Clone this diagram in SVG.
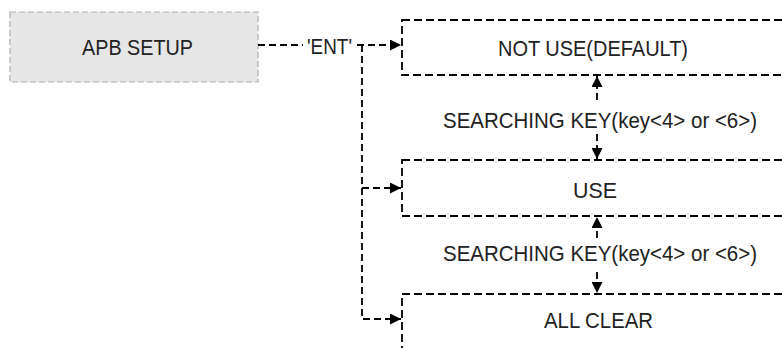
<svg xmlns="http://www.w3.org/2000/svg" width="782" height="348" viewBox="0 0 782 348">
<defs>
<marker id="ah" viewBox="0 0 10 10" refX="10" refY="5" markerWidth="11" markerHeight="11" markerUnits="userSpaceOnUse" orient="auto"><path d="M0,0 L10,5 L0,10 Z" fill="#000"/></marker>
<style>
.t{font-family:"Liberation Sans",Arial,sans-serif;font-size:21.5px;fill:#222;text-anchor:middle}
.box{fill:#fff;stroke:#000;stroke-width:1.8;stroke-dasharray:8,4}
.c{fill:none;stroke:#000;stroke-width:1.8;stroke-dasharray:7,4}
</style>
</defs>
<g id="apb">
<rect x="10" y="12" width="248" height="70" fill="#e6e6e6" stroke="#b0b0b0" stroke-width="1.2" stroke-dasharray="6,3"/>
<text class="t" x="137.5" y="54.5" textLength="111" lengthAdjust="spacingAndGlyphs">APB SETUP</text>
</g>
<g id="notuse">
<rect class="box" x="402" y="20" width="390" height="55"/>
<text class="t" x="593" y="55.5" textLength="190" lengthAdjust="spacingAndGlyphs">NOT USE(DEFAULT)</text>
</g>
<g id="use">
<rect class="box" x="402" y="160" width="390" height="56"/>
<text class="t" x="595" y="197.5" textLength="44" lengthAdjust="spacingAndGlyphs">USE</text>
</g>
<g id="allclear">
<rect class="box" x="402" y="294" width="390" height="60"/>
<text class="t" x="598.5" y="328" textLength="109" lengthAdjust="spacingAndGlyphs">ALL CLEAR</text>
</g>
<g id="connectors">
<path class="c" d="M258,45 H303"/>
<text class="t" x="329.5" y="53.5" textLength="45" lengthAdjust="spacingAndGlyphs">'ENT'</text>
<path class="c" d="M357,45 H401" marker-end="url(#ah)"/>
<path class="c" d="M362,45 V319 H401" marker-end="url(#ah)"/>
<path class="c" d="M362,188 H401" marker-end="url(#ah)"/>
<path class="c" d="M597,100 V76" marker-end="url(#ah)"/>
<path class="c" d="M597,134 V159" marker-end="url(#ah)"/>
<text class="t" x="600" y="128" textLength="314" lengthAdjust="spacingAndGlyphs">SEARCHING KEY(key&lt;4&gt; or &lt;6&gt;)</text>
<path class="c" d="M597,238 V217" marker-end="url(#ah)"/>
<path class="c" d="M597,272 V293" marker-end="url(#ah)"/>
<text class="t" x="600" y="261" textLength="314" lengthAdjust="spacingAndGlyphs">SEARCHING KEY(key&lt;4&gt; or &lt;6&gt;)</text>
</g>
</svg>
